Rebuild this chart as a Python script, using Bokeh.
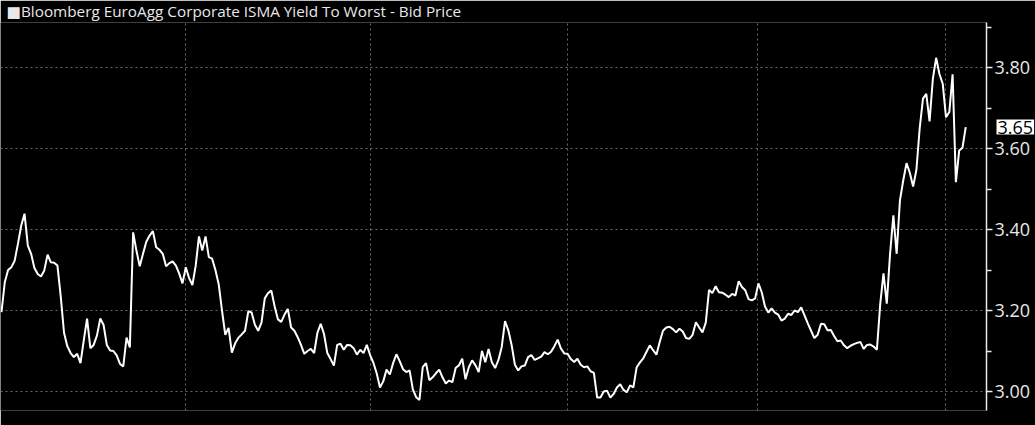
from bokeh.plotting import figure
from bokeh.models import Range1d, FixedTicker, NumeralTickFormatter, Label, Grid
from bokeh.embed import file_html
from bokeh.resources import INLINE

series_name = "Bloomberg EuroAgg Corporate ISMA Yield To Worst - Bid Price"

values = [
    3.196, 3.270, 3.300, 3.307, 3.323, 3.365, 3.410, 3.439, 3.360, 3.340,
    3.305, 3.290, 3.284, 3.299, 3.338, 3.319, 3.318, 3.311, 3.235, 3.145,
    3.112, 3.095, 3.085, 3.093, 3.070, 3.126, 3.180, 3.107, 3.115, 3.138,
    3.180, 3.165, 3.115, 3.101, 3.100, 3.089, 3.068, 3.062, 3.133, 3.109,
    3.393, 3.348, 3.309, 3.340, 3.370, 3.385, 3.396, 3.356, 3.350, 3.340,
    3.309, 3.317, 3.321, 3.311, 3.291, 3.267, 3.307, 3.280, 3.263, 3.310,
    3.383, 3.348, 3.383, 3.332, 3.328, 3.300, 3.265, 3.200, 3.140, 3.157,
    3.096, 3.119, 3.133, 3.141, 3.150, 3.198, 3.195, 3.165, 3.150, 3.170,
    3.230, 3.243, 3.249, 3.210, 3.178, 3.172, 3.190, 3.204, 3.158, 3.150,
    3.134, 3.115, 3.093, 3.100, 3.105, 3.095, 3.145, 3.167, 3.142, 3.095,
    3.080, 3.064, 3.115, 3.118, 3.103, 3.115, 3.114, 3.107, 3.091, 3.103,
    3.095, 3.115, 3.090, 3.071, 3.045, 3.010, 3.025, 3.054, 3.042, 3.070,
    3.092, 3.075, 3.055, 3.048, 3.052, 3.005, 2.986, 2.979, 3.060, 3.070,
    3.028, 3.035, 3.045, 3.054, 3.035, 3.020, 3.027, 3.023, 3.058, 3.065,
    3.081, 3.030, 3.060, 3.077, 3.065, 3.048, 3.100, 3.072, 3.105, 3.072,
    3.058, 3.078, 3.110, 3.174, 3.151, 3.115, 3.066, 3.052, 3.062, 3.064,
    3.085, 3.090, 3.078, 3.082, 3.086, 3.097, 3.092, 3.098, 3.112, 3.128,
    3.106, 3.094, 3.093, 3.080, 3.073, 3.081, 3.066, 3.060, 3.062, 3.050,
    3.046, 2.985, 2.985, 3.000, 3.002, 2.985, 2.994, 3.010, 3.018, 3.004,
    2.998, 3.015, 3.010, 3.060, 3.072, 3.082, 3.098, 3.114, 3.102, 3.091,
    3.122, 3.150, 3.158, 3.160, 3.154, 3.146, 3.155, 3.148, 3.132, 3.130,
    3.140, 3.171, 3.158, 3.146, 3.170, 3.251, 3.243, 3.260, 3.245, 3.244,
    3.239, 3.233, 3.241, 3.237, 3.272, 3.258, 3.250, 3.228, 3.225, 3.230,
    3.267, 3.245, 3.210, 3.195, 3.205, 3.195, 3.190, 3.175, 3.180, 3.192,
    3.189, 3.200, 3.196, 3.208, 3.188, 3.168, 3.150, 3.132, 3.140, 3.167,
    3.166, 3.151, 3.152, 3.137, 3.124, 3.126, 3.114, 3.107, 3.113, 3.117,
    3.120, 3.122, 3.105, 3.115, 3.116, 3.111, 3.103, 3.215, 3.292, 3.217,
    3.340, 3.435, 3.340, 3.472, 3.521, 3.564, 3.540, 3.506, 3.547, 3.650,
    3.723, 3.735, 3.667, 3.772, 3.824, 3.784, 3.760, 3.677, 3.690, 3.783,
    3.517, 3.595, 3.602, 3.653,
]
obs = list(range(len(values)))

grid_obs = [55.9, 112.0, 171.9, 229.6, 286.8]
y_major = [3.0, 3.2, 3.4, 3.6, 3.8]
y_minor = [2.9, 3.1, 3.3, 3.5, 3.7, 3.9]

FG = "#e8e8e8"
GRID = "#6a6a6a"
FONT = "Open Sans"

PX_PER_OBS = 3.291
PX_PER_Y = 405.0
FRAME_BOTTOM_PX = 410  # the last-value tag occupies a slim strip under the frame

def y_at_px(py):
    return 3.0 + (391.0 - py) / PX_PER_Y

def obs_at_px(px):
    return (px - 1.0) / PX_PER_OBS

p = figure(width=1035, height=425, output_backend="svg", toolbar_location=None,
           x_range=Range1d(obs_at_px(0), obs_at_px(986)),
           y_range=Range1d(y_at_px(FRAME_BOTTOM_PX), y_at_px(22)),
           x_axis_location=None, y_axis_location="right",
           background_fill_color="black", border_fill_color="black",
           min_border_left=0, min_border_right=49, min_border_top=22, min_border_bottom=0)
p.outline_line_color = None

# legend as the title
p.title.text = "\u25a0" + series_name
p.title.text_font = "Open Sans, DejaVu Sans"
p.title.text_font_size = "15.3px"
p.title.text_font_style = "normal"
p.title.text_color = FG
p.title.align = "left"
p.title.offset = 6
p.title.standoff = 0
p.title.vertical_align = "top"

p.xgrid.visible = False
p.ygrid.grid_line_color = GRID
p.ygrid.grid_line_dash = "2 3"
p.ygrid.grid_line_width = 1
p.add_layout(Grid(dimension=0, ticker=FixedTicker(ticks=grid_obs),
                  grid_line_color=GRID, grid_line_dash="2 3", grid_line_width=1))

ax = p.yaxis[0]
ax.ticker = FixedTicker(ticks=y_major, minor_ticks=y_minor)
ax.formatter = NumeralTickFormatter(format="0.00")
ax.axis_line_color = FG
ax.axis_line_width = 1.5
ax.major_tick_line_color = FG
ax.major_tick_line_width = 1.5
ax.minor_tick_line_color = FG
ax.minor_tick_line_width = 1.5
ax.major_tick_in = 0
ax.major_tick_out = 6
ax.minor_tick_in = 0
ax.minor_tick_out = 5
ax.major_label_standoff = 2
ax.major_label_text_color = FG
ax.major_label_text_font = FONT
ax.major_label_text_font_size = "18px"

p.line(obs, values, line_color="white", line_width=2)

# last value tag (placed in a side panel so it is not clipped to the frame)
last = values[-1]
p.add_layout(Label(x=obs_at_px(996), y=last, x_units="data", y_units="data",
                   text=f"{last:.2f}", text_color="black", text_font=FONT,
                   text_font_size="18px", text_baseline="middle", text_align="left",
                   text_line_height=1.0, padding=1,
                   background_fill_color="white", background_fill_alpha=1.0), "below")

open("out.html", "w").write(file_html(p, INLINE))
